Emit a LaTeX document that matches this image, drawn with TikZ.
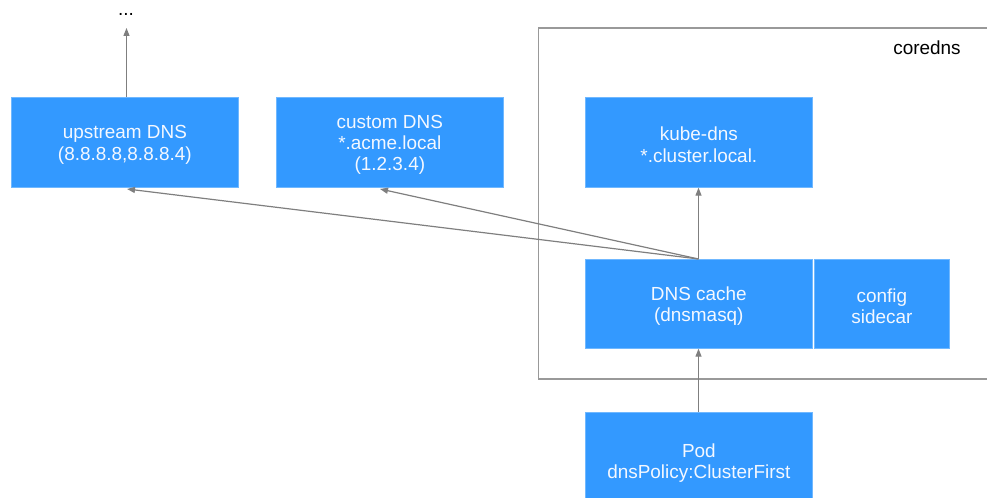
\documentclass[tikz,border=0pt]{standalone}
\usepackage{fontspec}
\setmainfont{Liberation Sans}
\usetikzlibrary{arrows.meta}
\definecolor{boxblue}{HTML}{3399FF}
\definecolor{linegray}{HTML}{7F7F7F}
\definecolor{boxtext}{HTML}{F4F8FF}
\tikzset{
  blue box/.style={fill=boxblue, draw=boxblue!70!white, line width=0.5pt, inner sep=0pt, anchor=north west},
  box text/.style={text=boxtext, align=center, font=\fontsize{14.2}{15.9}\selectfont, inner sep=0pt, yshift=-2.5*0.75pt},
  conn/.style={draw=linegray, line width=0.9pt, -{Triangle[length=6pt,width=4.5pt]}},
}
\begin{document}
\begin{tikzpicture}[x=0.75pt,y=-0.75pt]
\clip (0,0) rectangle (987,498);
\useasboundingbox (0,0) rectangle (987,498);
% coredns container
\draw[draw=linegray!80, line width=1pt] (1000,28) -- (538.5,28) -- (538.5,379) -- (1000,379);
\node[font=\fontsize{14.2}{16}\selectfont, anchor=base] (corelabel) at (927,55) {coredns};
% boxes
\node[blue box, minimum width=227*0.75pt, minimum height=90*0.75pt,
  label={[box text]center:upstream DNS\\(8.8.8.8,8.8.8.4)}] (up) at (11,97) {};
\node[blue box, minimum width=227*0.75pt, minimum height=90*0.75pt,
  label={[box text]center:custom DNS\\*.acme.local\\(1.2.3.4)}] (custom) at (276,97) {};
\node[blue box, minimum width=227*0.75pt, minimum height=90*0.75pt,
  label={[box text]center:kube-dns\\*.cluster.local.}] (kube) at (585,97) {};
\node[blue box, minimum width=227*0.75pt, minimum height=89*0.75pt,
  label={[box text]center:DNS cache\\(dnsmasq)}] (cache) at (585,259) {};
\node[blue box, minimum width=135*0.75pt, minimum height=89*0.75pt,
  label={[box text]center:config\\sidecar}] (sidecar) at (814,259) {};
\node[blue box, minimum width=227*0.75pt, minimum height=95*0.75pt,
  label={[box text, yshift=-1*0.75pt]center:Pod\\dnsPolicy:ClusterFirst}] (pod) at (585,412) {};
\node[font=\fontsize{14.2}{16}\selectfont, inner sep=0pt] (dots) at (126,14) {...};
\coordinate (cachetop) at (698.5,259);
\coordinate (upin) at (127,189);
\coordinate (customin) at (380,189);
\coordinate (dotsin) at (126.5,28);
% connectors
\draw[conn] (cachetop) -- (kube.south -| cachetop);
\draw[conn] (cachetop) -- (upin);
\draw[conn] (cachetop) -- (customin);
\draw[conn] (pod.north -| cachetop) -- (cache.south -| cachetop);
\draw[conn] (up.north -| dotsin) -- (dotsin);
\end{tikzpicture}
\end{document}
